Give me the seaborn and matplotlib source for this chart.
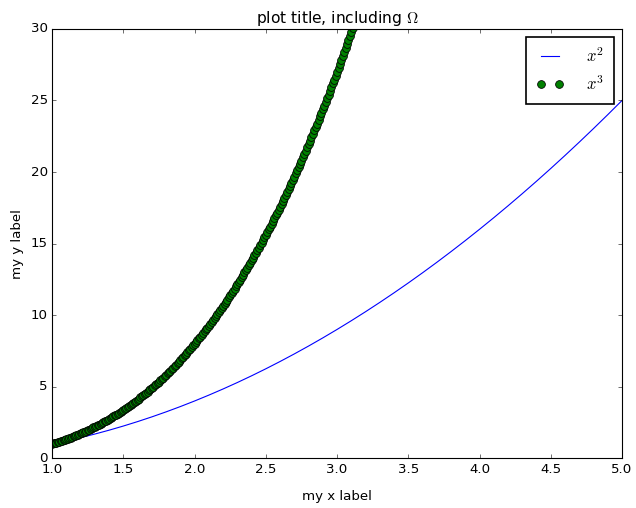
import matplotlib
matplotlib.use("Agg")
import matplotlib.pyplot as plt
import seaborn as sns
import pandas as pd

plt.style.use("classic")

# x^2 series (line)
x_sq = [1.0, 1.1, 1.2, 1.3, 1.4, 1.5, 1.6, 1.7, 1.8, 1.9, 2.0, 2.1, 2.2, 2.3, 2.4, 2.5,
        2.6, 2.7, 2.8, 2.9, 3.0, 3.1, 3.2, 3.3, 3.4, 3.5, 3.6, 3.7, 3.8, 3.9, 4.0, 4.1,
        4.2, 4.3, 4.4, 4.5, 4.6, 4.7, 4.8, 4.9, 5.0]
y_sq = [1.00, 1.21, 1.44, 1.69, 1.96, 2.25, 2.56, 2.89, 3.24, 3.61, 4.00, 4.41, 4.84, 5.29,
        5.76, 6.25, 6.76, 7.29, 7.84, 8.41, 9.00, 9.61, 10.24, 10.89, 11.56, 12.25, 12.96,
        13.69, 14.44, 15.21, 16.00, 16.81, 17.64, 18.49, 19.36, 20.25, 21.16, 22.09, 23.04,
        24.01, 25.00]

# x^3 series (dots)
x_cu = [1.00, 1.01, 1.02, 1.03, 1.04, 1.05, 1.06, 1.07, 1.08, 1.09, 1.10, 1.11, 1.12, 1.13,
        1.14, 1.15, 1.16, 1.17, 1.18, 1.19, 1.20, 1.21, 1.22, 1.23, 1.24, 1.25, 1.26, 1.27,
        1.28, 1.29, 1.30, 1.31, 1.32, 1.33, 1.34, 1.35, 1.36, 1.37, 1.38, 1.39, 1.40, 1.41,
        1.42, 1.43, 1.44, 1.45, 1.46, 1.47, 1.48, 1.49, 1.50, 1.51, 1.52, 1.53, 1.54, 1.55,
        1.56, 1.57, 1.58, 1.59, 1.60, 1.61, 1.62, 1.63, 1.64, 1.65, 1.66, 1.67, 1.68, 1.69,
        1.70, 1.71, 1.72, 1.73, 1.74, 1.75, 1.76, 1.77, 1.78, 1.79, 1.80, 1.81, 1.82, 1.83,
        1.84, 1.85, 1.86, 1.87, 1.88, 1.89, 1.90, 1.91, 1.92, 1.93, 1.94, 1.95, 1.96, 1.97,
        1.98, 1.99, 2.00, 2.01, 2.02, 2.03, 2.04, 2.05, 2.06, 2.07, 2.08, 2.09, 2.10, 2.11,
        2.12, 2.13, 2.14, 2.15, 2.16, 2.17, 2.18, 2.19, 2.20, 2.21, 2.22, 2.23, 2.24, 2.25,
        2.26, 2.27, 2.28, 2.29, 2.30, 2.31, 2.32, 2.33, 2.34, 2.35, 2.36, 2.37, 2.38, 2.39,
        2.40, 2.41, 2.42, 2.43, 2.44, 2.45, 2.46, 2.47, 2.48, 2.49, 2.50, 2.51, 2.52, 2.53,
        2.54, 2.55, 2.56, 2.57, 2.58, 2.59, 2.60, 2.61, 2.62, 2.63, 2.64, 2.65, 2.66, 2.67,
        2.68, 2.69, 2.70, 2.71, 2.72, 2.73, 2.74, 2.75, 2.76, 2.77, 2.78, 2.79, 2.80, 2.81,
        2.82, 2.83, 2.84, 2.85, 2.86, 2.87, 2.88, 2.89, 2.90, 2.91, 2.92, 2.93, 2.94, 2.95,
        2.96, 2.97, 2.98, 2.99, 3.00, 3.01, 3.02, 3.03, 3.04, 3.05, 3.06, 3.07, 3.08, 3.09,
        3.10, 3.11, 3.12]
y_cu = [1.00, 1.03, 1.06, 1.09, 1.12, 1.16, 1.19, 1.23, 1.26, 1.30, 1.33, 1.37, 1.40, 1.44,
        1.48, 1.52, 1.56, 1.60, 1.64, 1.69, 1.73, 1.77, 1.82, 1.86, 1.91, 1.95, 2.00, 2.05,
        2.10, 2.15, 2.20, 2.25, 2.30, 2.35, 2.41, 2.46, 2.52, 2.57, 2.63, 2.69, 2.74, 2.80,
        2.86, 2.92, 2.99, 3.05, 3.11, 3.18, 3.24, 3.31, 3.38, 3.44, 3.51, 3.58, 3.65, 3.72,
        3.80, 3.87, 3.94, 4.02, 4.10, 4.17, 4.25, 4.33, 4.41, 4.49, 4.57, 4.66, 4.74, 4.83,
        4.91, 5.00, 5.09, 5.18, 5.27, 5.36, 5.45, 5.55, 5.64, 5.74, 5.83, 5.93, 6.03, 6.13,
        6.23, 6.33, 6.43, 6.54, 6.64, 6.75, 6.86, 6.97, 7.08, 7.19, 7.30, 7.41, 7.53, 7.65,
        7.76, 7.88, 8.00, 8.12, 8.24, 8.37, 8.49, 8.62, 8.74, 8.87, 9.00, 9.13, 9.26, 9.39,
        9.53, 9.66, 9.80, 9.94, 10.08, 10.22, 10.36, 10.50, 10.65, 10.79, 10.94, 11.09,
        11.24, 11.39, 11.54, 11.70, 11.85, 12.01, 12.17, 12.33, 12.49, 12.65, 12.81, 12.98,
        13.14, 13.31, 13.48, 13.65, 13.82, 14.00, 14.17, 14.35, 14.53, 14.71, 14.89, 15.07,
        15.25, 15.44, 15.63, 15.81, 16.00, 16.19, 16.39, 16.58, 16.78, 16.97, 17.17, 17.37,
        17.58, 17.78, 17.98, 18.19, 18.40, 18.61, 18.82, 19.03, 19.25, 19.47, 19.68, 19.90,
        20.12, 20.35, 20.57, 20.80, 21.02, 21.25, 21.48, 21.72, 21.95, 22.19, 22.43, 22.67,
        22.91, 23.15, 23.39, 23.64, 23.89, 24.14, 24.39, 24.64, 24.90, 25.15, 25.41, 25.67,
        25.93, 26.20, 26.46, 26.73, 27.00, 27.27, 27.54, 27.82, 28.09, 28.37, 28.65, 28.93,
        29.22, 29.50, 29.79, 30.08, 30.37]

fig, ax = plt.subplots(figsize=(636 / 80, 508 / 80), dpi=80)
fig.subplots_adjust(left=0.082, right=0.978, top=0.943, bottom=0.098)

df_sq = pd.DataFrame({"x": x_sq, "y": y_sq})
df_cu = pd.DataFrame({"x": x_cu, "y": y_cu})

sns.lineplot(data=df_sq, x="x", y="y", ax=ax, color=(0, 0, 1), linewidth=1.0,
             label="$x^2$", sort=False)
sns.lineplot(data=df_cu, x="x", y="y", ax=ax, color=(0, 0.5, 0), linestyle="",
             marker="o", markersize=7, markeredgecolor="black", markeredgewidth=0.7,
             label="$x^3$", sort=False)

ax.set_xlim(1.0, 5.0)
ax.set_ylim(0, 30)
ax.set_xticks([1.0, 1.5, 2.0, 2.5, 3.0, 3.5, 4.0, 4.5, 5.0])
ax.set_xticklabels(["1.0", "1.5", "2.0", "2.5", "3.0", "3.5", "4.0", "4.5", "5.0"])
ax.set_yticks([0, 5, 10, 15, 20, 25, 30])
ax.set_xlabel("my x label", fontsize=12, labelpad=13)
ax.set_ylabel("my y label", fontsize=12, labelpad=6)
ax.set_title("plot title, including $\\Omega$", fontsize=14)
ax.tick_params(labelsize=12)
leg = ax.legend(loc="upper right", numpoints=2, fancybox=False, fontsize=15,
                labelspacing=0.55, handlelength=1.7, handletextpad=1.3,
                borderpad=0.6, borderaxespad=0.5)
leg.get_frame().set_linewidth(1.5)

fig.savefig("out.png", dpi=80)
